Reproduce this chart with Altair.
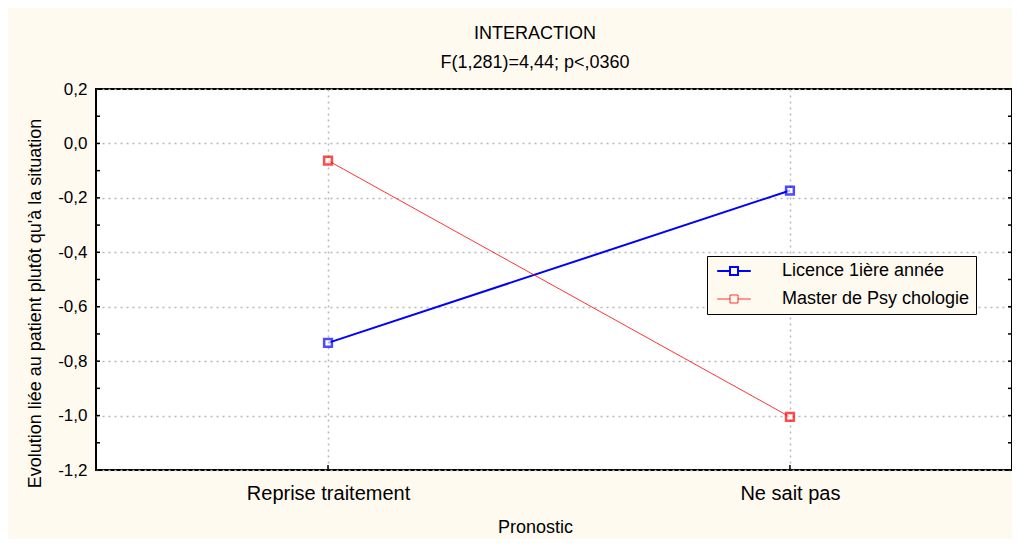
import json
import altair as alt
import pandas as pd

categories = ["Reprise traitement", "Ne sait pas"]
groups = ["Licence 1ière année", "Master de Psy chologie"]
licence_values = [-0.733, -0.173]
master_values = [-0.063, -1.005]
y_major = [0.2, 0.0, -0.2, -0.4, -0.6, -0.8, -1.0, -1.2]
y_minor = [0.2, 0.1, 0.0, -0.1, -0.2, -0.3, -0.4, -0.5, -0.6, -0.7, -0.8, -0.9, -1.0, -1.1, -1.2]

rows = []
for i, (c, v) in enumerate(zip(categories, licence_values)):
    rows.append({"Pronostic": c, "idx": i, "Groupe": groups[0], "val": v})
for i, (c, v) in enumerate(zip(categories, master_values)):
    rows.append({"Pronostic": c, "idx": i, "Groupe": groups[1], "val": v})
df = pd.DataFrame(rows)
ticks_df = pd.DataFrame({"val": y_minor})
xticks_df = pd.DataFrame({"idx": list(range(len(categories)))})

FONT = "Liberation Sans"
W, H = 916, 381
BG = "#FFFAF0"

xscale = alt.Scale(domain=[-0.5023, 1.4807], nice=False, zero=False)
yscale = alt.Scale(domain=[-1.2, 0.2], nice=False, zero=False)
col_scale = alt.Scale(domain=groups, range=["#0000ff", "#ff0000"])
sw_scale = alt.Scale(domain=groups, range=[2, 0.8])

label_expr = "(datum.value < -1e-9 ? '-' : '') + replace(format(abs(datum.value), '.1f'), '.', ',')"
x_label_expr = json.dumps(categories) + "[datum.value]"

x_enc = alt.X(
    "idx:Q", scale=xscale,
    axis=alt.Axis(title="Pronostic", values=list(range(len(categories))), labelExpr=x_label_expr,
                  labelAngle=0, labelFontSize=20, labelFont=FONT,
                  labelColor="black", labelPadding=13, ticks=False, tickSize=0, domain=False,
                  grid=True, gridColor="#b8b8b8", gridDash=[2, 4], gridWidth=1.5,
                  titleFont=FONT, titleFontSize=18, titleFontWeight="normal", titleColor="black",
                  titleX=439, titleY=57, titleBaseline="middle", titleAlign="center"),
)
y_enc = alt.Y(
    "val:Q", scale=yscale,
    axis=alt.Axis(title="Evolution liée au patient plutôt qu'à la situation", values=y_major,
                  labelExpr=label_expr, labelFontSize=17, labelFont=FONT, labelColor="black",
                  labelPadding=9, ticks=False, tickSize=0, domain=False,
                  grid=True, gridColor="#b8b8b8", gridDash=[2, 4], gridWidth=1.5,
                  titleFont=FONT, titleFontSize=18, titleFontWeight="normal", titleColor="black",
                  titleX=-61, titleY=214, titleBaseline="middle", titleAlign="center"),
)

legend_path = "M-2.1,0 L-0.5,0 M0.5,0 L2.1,0 M-0.5,-0.5 L0.5,-0.5 L0.5,0.5 L-0.5,0.5 Z"

lines = alt.Chart(df).mark_line().encode(
    x=x_enc, y=y_enc,
    color=alt.Color("Groupe:N", scale=col_scale, sort=groups,
                    legend=alt.Legend(title=None, orient="none", legendX=611, legendY=167,
                                      symbolType=legend_path, symbolSize=256, symbolStrokeWidth=1.5,
                                      symbolOffset=12, labelOffset=39, rowPadding=10,
                                      padding=6, fillColor=BG, strokeColor="black",
                                      labelFont=FONT, labelFontSize=18, labelColor="black",
                                      labelLimit=400, cornerRadius=0)),
    strokeWidth=alt.StrokeWidth("Groupe:N", scale=sw_scale, sort=groups, legend=None),
)

points = alt.Chart(df).mark_point(shape="square", filled=True, fill="white", size=60, strokeWidth=2.5).encode(
    x=alt.X("idx:Q", scale=xscale),
    y=alt.Y("val:Q", scale=yscale),
    stroke=alt.Stroke("Groupe:N", scale=col_scale, legend=None),
)

left_ticks = alt.Chart(ticks_df).mark_rule(color="black", strokeWidth=1.5).encode(
    y=alt.Y("val:Q", scale=yscale), x=alt.value(0), x2=alt.value(4))
right_ticks = alt.Chart(ticks_df).mark_rule(color="black", strokeWidth=1.5).encode(
    y=alt.Y("val:Q", scale=yscale), x=alt.value(W - 4), x2=alt.value(W))
bottom_ticks = alt.Chart(xticks_df).mark_rule(color="black", strokeWidth=1.5).encode(
    x=alt.X("idx:Q", scale=xscale), y=alt.value(H - 5), y2=alt.value(H))

chart = alt.layer(left_ticks, right_ticks, bottom_ticks, lines, points).properties(
    width=W, height=H,
    background=BG,
    autosize=alt.AutoSizeParams(type="none"),
    padding={"left": 88, "top": 81, "right": 0, "bottom": 69},
    title=alt.Title(text="INTERACTION", subtitle="F(1,281)=4,44; p<,0360",
                    font=FONT, subtitleFont=FONT, fontSize=18, subtitleFontSize=18,
                    fontWeight="normal", color="black", subtitleColor="black",
                    anchor="middle", dx=-19, offset=8, subtitlePadding=11),
).configure_view(
    stroke="black", strokeWidth=2, fill="white"
)

chart.save("out.html", embed_options={"renderer": "svg", "actions": False})
